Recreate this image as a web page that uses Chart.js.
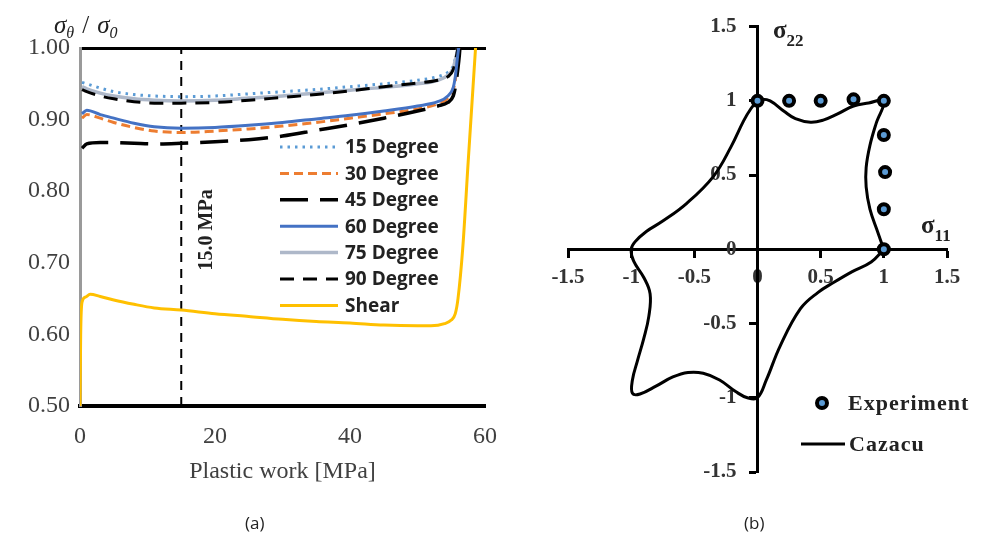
<!DOCTYPE html>
<html>
<head>
<meta charset="utf-8">
<script src="https://cdn.jsdelivr.net/npm/chart.js@4.4.1/dist/chart.umd.min.js"></script>
<style>
  body { margin: 0; background: #fff; width: 986px; height: 535px; position: relative; overflow: hidden; }
  #chartA { position: absolute; left: 0; top: 0; }
  #chartB { position: absolute; left: 500px; top: 0; }
  .cap { position: absolute; top: 511px; font: 17px "Open Sans", sans-serif; color: #222; }
</style>
</head>
<body>
<canvas id="chartA" width="513" height="535"></canvas>
<canvas id="chartB" width="486" height="535"></canvas>
<div class="cap" style="left:245px">(a)</div>
<div class="cap" style="left:744px">(b)</div>
<script>
// ---------- (a) normalised yield stress vs plastic work ----------
var xTicksA = [0, 20, 40, 60];
var yTicksA = [0.5, 0.6, 0.7, 0.8, 0.9, 1.0];

// common plastic work grid for the degree curves
var workX = [0.3, 1, 3, 5, 8, 11, 15, 20, 25, 30, 35, 40, 45, 50, 53, 54.5, 55.3, 55.6, 55.9, 56.2, 56.5];
var deg15 = [0.952, 0.950, 0.944, 0.939, 0.935, 0.933, 0.932, 0.933, 0.936, 0.939, 0.942, 0.946, 0.950, 0.955, 0.960, 0.966, 0.975, 0.985, 0.997, 1.02, 1.05];
var deg30 = [0.902, 0.907, 0.902, 0.896, 0.889, 0.884, 0.882, 0.884, 0.887, 0.891, 0.896, 0.902, 0.908, 0.915, 0.922, 0.930, 0.942, 0.955, 0.980, 1.01, 1.05];
var deg45 = [0.860, 0.866, 0.868, 0.868, 0.867, 0.866, 0.867, 0.869, 0.872, 0.877, 0.885, 0.893, 0.902, 0.912, 0.919, 0.924, 0.933, 0.945, 0.965, 0.99, 1.03];
var deg60 = [0.908, 0.913, 0.907, 0.902, 0.895, 0.890, 0.888, 0.889, 0.892, 0.896, 0.901, 0.906, 0.912, 0.919, 0.925, 0.933, 0.945, 0.960, 0.985, 1.01, 1.05];
var deg75 = [0.946, 0.943, 0.937, 0.933, 0.929, 0.927, 0.926, 0.927, 0.930, 0.933, 0.937, 0.941, 0.945, 0.950, 0.955, 0.962, 0.972, 0.983, 0.996, 1.02, 1.05];
var deg90 = [0.942, 0.939, 0.933, 0.929, 0.925, 0.923, 0.923, 0.924, 0.927, 0.931, 0.935, 0.940, 0.946, 0.951, 0.955, 0.960, 0.970, 0.982, 0.995, 1.02, 1.05];

var shearX = [0, 0.1, 0.3, 0.8, 1.5, 3, 5, 8, 11, 15, 20, 25, 30, 35, 40, 45, 50, 52, 54, 55, 55.6, 56, 56.7, 57.5, 58.6];
var shearY = [0.5, 0.6, 0.645, 0.652, 0.656, 0.653, 0.648, 0.642, 0.637, 0.634, 0.629, 0.625, 0.621, 0.618, 0.616, 0.613, 0.612, 0.612, 0.615, 0.62, 0.629, 0.65, 0.72, 0.84, 1.0];

var markX = [15, 15];
var markY = [0.5, 1.0];
var markLabel = "15.0 MPa";

var legendOrderA = ["15 Degree", "30 Degree", "45 Degree", "60 Degree", "75 Degree", "90 Degree", "Shear"];

// ---------- (b) yield locus ----------
var xTicksB = [-1.5, -1, -0.5, 0, 0.5, 1, 1.5];
var yTicksB = [-1.5, -1, -0.5, 0, 0.5, 1, 1.5];

var expX = [0, 0.25, 0.5, 0.76, 1, 1, 1.01, 1, 1];
var expY = [1, 1, 1, 1.01, 1, 0.77, 0.52, 0.27, 0];

var cazacuX = [1.0, 0.95, 0.89, 0.86, 0.86, 0.89, 0.94, 1.0, 0.88, 0.76, 0.63, 0.52, 0.42, 0.30, 0.21, 0.10, 0.03, 0.0,
  -0.05, -0.11, -0.21, -0.35, -0.56, -0.75, -0.88, -0.97, -1.0, -0.98, -0.90, -0.85, -0.86, -0.90, -0.95, -0.99, -0.99,
  -0.93, -0.80, -0.67, -0.55, -0.43, -0.30, -0.17, -0.08, 0.0, 0.07, 0.18, 0.34, 0.48, 0.605, 0.75, 0.9, 1.0];
var cazacuY = [0.0, 0.12, 0.27, 0.42, 0.55, 0.70, 0.85, 1.0, 0.985, 0.965, 0.91, 0.87, 0.856, 0.88, 0.93, 1.0, 1.01, 1.0,
  0.95, 0.865, 0.69, 0.49, 0.31, 0.19, 0.12, 0.05, 0.0, -0.08, -0.19, -0.30, -0.45, -0.60, -0.75, -0.88, -0.97,
  -0.975, -0.92, -0.86, -0.83, -0.835, -0.88, -0.96, -1.0, -1.0, -0.88, -0.65, -0.40, -0.29, -0.222, -0.15, -0.085, 0.0];

function pts(xs, ys) {
  return xs.map(function (x, i) { return { x: x, y: ys[i] }; });
}

Chart.defaults.font.family = "'Liberation Serif', 'Times New Roman', serif";
Chart.defaults.animation = false;

var serifA = { family: "'Liberation Serif', serif", size: 24 };

function curve(label, ys, color, width, dash) {
  return {
    label: label,
    data: pts(workX, ys),
    borderColor: color,
    backgroundColor: color,
    borderWidth: width,
    borderDash: dash,
    pointRadius: 0,
    cubicInterpolationMode: "monotone",
    fill: false
  };
}

var datasetsA = [
  curve("60 Degree", deg60, "#4472C4", 3, []),
  curve("90 Degree", deg90, "#000000", 3, [14, 9]),
  curve("45 Degree", deg45, "#000000", 3.5, [28, 12]),
  curve("75 Degree", deg75, "#AEB8C9", 3.5, []),
  curve("30 Degree", deg30, "#ED7D31", 3, [9, 5]),
  curve("15 Degree", deg15, "#5B9BD5", 3, [2.5, 5]),
  {
    label: "Shear",
    data: pts(shearX, shearY),
    borderColor: "#FFC000",
    backgroundColor: "#FFC000",
    borderWidth: 3,
    pointRadius: 0,
    cubicInterpolationMode: "monotone",
    fill: false
  },
  {
    label: "marker",
    data: pts(markX, markY),
    borderColor: "#000",
    borderWidth: 2,
    borderDash: [9, 7],
    pointRadius: 0,
    fill: false
  }
];

var decorA = {
  id: "decorA",
  afterDatasetsDraw: function (chart) {
    var ctx = chart.ctx;
    var xs = chart.scales.x, ys = chart.scales.y;
    ctx.save();

    // y axis title: sigma_theta / sigma_0
    ctx.fillStyle = "#222";
    ctx.textBaseline = "alphabetic";
    var x = 54, base = 33;
    ctx.font = "italic 25px 'Liberation Serif'";
    ctx.fillText("σ", x, base); x += ctx.measureText("σ").width;
    ctx.font = "italic 16px 'Liberation Serif'";
    ctx.fillText("θ", x, base + 5); x += ctx.measureText("θ").width + 8;
    ctx.font = "25px 'Liberation Serif'";
    ctx.fillText("/", x, base); x += ctx.measureText("/").width + 8;
    ctx.font = "italic 25px 'Liberation Serif'";
    ctx.fillText("σ", x, base); x += ctx.measureText("σ").width;
    ctx.font = "italic 16px 'Liberation Serif'";
    ctx.fillText("0", x, base + 5);

    // rotated label next to the 15 MPa line
    ctx.save();
    ctx.translate(xs.getPixelForValue(markX[0]) + 26, ys.getPixelForValue(0.746));
    ctx.rotate(-Math.PI / 2);
    ctx.font = "bold 20px 'Liberation Serif'";
    ctx.textAlign = "center";
    ctx.textBaseline = "middle";
    ctx.fillText(markLabel, 0, 0);
    ctx.restore();

    // legend
    ctx.font = "bold 19px 'Open Sans'";
    ctx.textBaseline = "middle";
    ctx.textAlign = "left";
    legendOrderA.forEach(function (lab, i) {
      var ds = chart.data.datasets.find(function (d) { return d.label === lab; });
      var y = 147 + i * 26.4;
      ctx.beginPath();
      ctx.strokeStyle = ds.borderColor;
      ctx.lineWidth = ds.borderWidth;
      ctx.setLineDash(ds.borderDash || []);
      ctx.moveTo(280, y);
      ctx.lineTo(338, y);
      ctx.stroke();
      ctx.setLineDash([]);
      ctx.fillStyle = "#222";
      ctx.fillText(lab, 345, y + 1);
    });
    ctx.restore();
  }
};

new Chart(document.getElementById("chartA"), {
  type: "line",
  data: { datasets: datasetsA },
  options: {
    responsive: false,
    events: [],
    layout: { padding: { top: 48, right: 2, bottom: 0, left: 0 } },
    plugins: { legend: { display: false }, tooltip: { enabled: false } },
    scales: {
      x: {
        type: "linear",
        min: 0,
        max: 60,
        afterBuildTicks: function (s) { s.ticks = xTicksA.map(function (v) { return { value: v }; }); },
        afterFit: function (s) { s.height = 129; },
        grid: { display: false, drawTicks: false },
        border: { color: "#000", width: 4 },
        ticks: { font: serifA, color: "#404040", padding: 16 },
        title: { display: true, text: "Plastic work [MPa]", font: serifA, color: "#404040", padding: { top: 0, bottom: 49 } }
      },
      x2: {
        type: "linear",
        position: "top",
        min: 0,
        max: 60,
        afterFit: function (s) { s.height = 0; },
        grid: { display: false, drawTicks: false },
        ticks: { display: false },
        border: { color: "#000", width: 3 }
      },
      y: {
        type: "linear",
        min: 0.5,
        max: 1.0,
        afterBuildTicks: function (s) { s.ticks = yTicksA.map(function (v) { return { value: v }; }); },
        afterFit: function (s) { s.width = 80; },
        grid: { display: false, drawTicks: false },
        border: { color: "#9a9a9a", width: 3 },
        ticks: { font: serifA, color: "#404040", padding: 10, callback: function (v) { return v.toFixed(2); } }
      }
    }
  },
  plugins: [decorA]
});

// ---------- (b) chart ----------
var serifB = { family: "'Liberation Serif', serif", size: 21, weight: "bold" };

var decorB = {
  id: "decorB",
  afterDatasetsDraw: function (chart) {
    var ctx = chart.ctx;
    ctx.save();
    ctx.fillStyle = "#222";
    ctx.textBaseline = "alphabetic";
    function sigma(label, sub, x, base) {
      ctx.font = "bold 25px 'Liberation Serif'";
      ctx.fillText(label, x, base);
      var w = ctx.measureText(label).width;
      ctx.font = "bold 17px 'Liberation Serif'";
      ctx.fillText(sub, x + w, base + 8);
    }
    sigma("σ", "22", 273, 38);
    sigma("σ", "11", 421, 233);

    // legend
    var ds = chart.data.datasets;
    ctx.beginPath();
    ctx.arc(322, 403, ds[0].pointRadius, 0, Math.PI * 2);
    ctx.fillStyle = ds[0].backgroundColor;
    ctx.fill();
    ctx.lineWidth = ds[0].pointBorderWidth;
    ctx.strokeStyle = ds[0].pointBorderColor;
    ctx.stroke();

    ctx.beginPath();
    ctx.moveTo(301, 444);
    ctx.lineTo(345, 444);
    ctx.lineWidth = ds[1].borderWidth;
    ctx.strokeStyle = ds[1].borderColor;
    ctx.stroke();

    ctx.fillStyle = "#222";
    ctx.font = "bold 22px 'Liberation Serif'";
    ctx.textBaseline = "middle";
    ctx.letterSpacing = "1px";
    ctx.fillText(ds[0].label, 348, 404);
    ctx.fillText(ds[1].label, 349, 445);
    ctx.restore();
  }
};

new Chart(document.getElementById("chartB"), {
  type: "scatter",
  data: {
    datasets: [
      {
        label: "Experiment",
        data: pts(expX, expY),
        pointRadius: 5,
        pointBorderWidth: 4,
        backgroundColor: "#5B9BD5",
        pointBorderColor: "#000",
        borderColor: "#000",
        showLine: false
      },
      {
        label: "Cazacu",
        data: pts(cazacuX, cazacuY),
        showLine: true,
        borderColor: "#000",
        backgroundColor: "#000",
        borderWidth: 3,
        pointRadius: 0,
        tension: 0.4,
        fill: false
      }
    ]
  },
  options: {
    responsive: false,
    events: [],
    layout: { padding: { top: 22, right: 39, bottom: 63, left: 68 } },
    plugins: { legend: { display: false }, tooltip: { enabled: false } },
    scales: {
      x: {
        type: "linear",
        position: { y: 0 },
        min: -1.5,
        max: 1.5,
        afterBuildTicks: function (s) { s.ticks = xTicksB.map(function (v) { return { value: v }; }); },
        grid: { display: true, drawOnChartArea: false, drawTicks: true, tickLength: 7, tickWidth: 3, tickColor: "#000" },
        border: { color: "#000", width: 3 },
        ticks: { font: serifB, color: "#333", padding: 9, callback: function (v) { return String(v); } }
      },
      y: {
        type: "linear",
        position: { x: 0 },
        min: -1.5,
        max: 1.5,
        afterBuildTicks: function (s) { s.ticks = yTicksB.map(function (v) { return { value: v }; }); },
        grid: { display: true, drawOnChartArea: false, drawTicks: true, tickLength: 7, tickWidth: 3, tickColor: "#000" },
        border: { color: "#000", width: 3 },
        // labels sit on the axis when centred, so pad them with en spaces
        ticks: { font: serifB, color: "#333", padding: 14, callback: function (v) { return String(v) + "\u2002\u2002"; } }
      }
    }
  },
  plugins: [decorB]
});
</script>
</body>
</html>
